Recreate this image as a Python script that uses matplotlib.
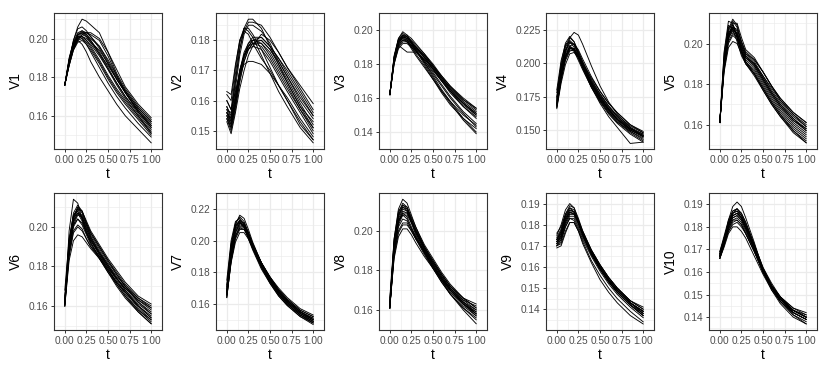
import numpy as np
import matplotlib
matplotlib.use("Agg")
import matplotlib.pyplot as plt

# ------------------------------------------------------------------
# data: each panel holds a set of curves sampled on the grid t
# ------------------------------------------------------------------
t = [0.0, 0.05, 0.1, 0.15, 0.2, 0.25, 0.3, 0.4, 0.5, 0.6, 0.7, 0.85, 1.0]

v1 = [
    [0.176, 0.188, 0.199, 0.206, 0.210, 0.209, 0.207, 0.203, 0.193, 0.182, 0.174, 0.165, 0.158],
    [0.176, 0.189, 0.199, 0.205, 0.206, 0.204, 0.201, 0.195, 0.187, 0.179, 0.172, 0.163, 0.156],
    [0.176, 0.188, 0.197, 0.202, 0.203, 0.202, 0.200, 0.196, 0.189, 0.181, 0.173, 0.164, 0.157],
    [0.176, 0.187, 0.196, 0.201, 0.203, 0.203, 0.202, 0.199, 0.191, 0.181, 0.172, 0.162, 0.155],
    [0.176, 0.190, 0.198, 0.201, 0.200, 0.197, 0.193, 0.185, 0.177, 0.170, 0.164, 0.156, 0.149],
    [0.176, 0.189, 0.197, 0.199, 0.197, 0.193, 0.188, 0.180, 0.173, 0.166, 0.160, 0.153, 0.146],
    [0.176, 0.186, 0.195, 0.200, 0.202, 0.201, 0.199, 0.193, 0.185, 0.177, 0.170, 0.162, 0.154],
    [0.176, 0.188, 0.196, 0.200, 0.201, 0.199, 0.196, 0.189, 0.181, 0.174, 0.168, 0.160, 0.152],
    [0.176, 0.187, 0.196, 0.202, 0.204, 0.203, 0.201, 0.196, 0.188, 0.180, 0.173, 0.164, 0.157],
    [0.176, 0.186, 0.194, 0.199, 0.202, 0.203, 0.203, 0.200, 0.193, 0.184, 0.175, 0.166, 0.159],
    [0.176, 0.187, 0.195, 0.199, 0.200, 0.198, 0.195, 0.188, 0.180, 0.173, 0.167, 0.159, 0.151],
    [0.176, 0.188, 0.197, 0.201, 0.201, 0.199, 0.197, 0.191, 0.184, 0.177, 0.170, 0.161, 0.153],
    [0.176, 0.189, 0.198, 0.203, 0.204, 0.202, 0.199, 0.192, 0.184, 0.176, 0.169, 0.160, 0.151],
    [0.176, 0.187, 0.195, 0.200, 0.201, 0.200, 0.198, 0.194, 0.187, 0.179, 0.172, 0.163, 0.155],
    [0.176, 0.186, 0.194, 0.198, 0.199, 0.197, 0.194, 0.187, 0.179, 0.172, 0.166, 0.158, 0.150],
    [0.176, 0.188, 0.197, 0.202, 0.203, 0.201, 0.198, 0.192, 0.186, 0.179, 0.172, 0.162, 0.154],
]

v2 = [
    [0.158, 0.155, 0.166, 0.177, 0.184, 0.187, 0.187, 0.184, 0.178, 0.172, 0.166, 0.158, 0.151],
    [0.160, 0.157, 0.169, 0.179, 0.184, 0.184, 0.182, 0.177, 0.171, 0.165, 0.160, 0.153, 0.147],
    [0.156, 0.154, 0.164, 0.175, 0.182, 0.185, 0.185, 0.183, 0.179, 0.173, 0.168, 0.161, 0.155],
    [0.162, 0.160, 0.171, 0.180, 0.184, 0.183, 0.181, 0.175, 0.169, 0.163, 0.158, 0.151, 0.146],
    [0.157, 0.156, 0.167, 0.177, 0.183, 0.186, 0.186, 0.185, 0.181, 0.176, 0.171, 0.165, 0.159],
    [0.155, 0.151, 0.158, 0.167, 0.173, 0.177, 0.179, 0.180, 0.177, 0.172, 0.167, 0.159, 0.152],
    [0.154, 0.150, 0.157, 0.166, 0.173, 0.177, 0.179, 0.179, 0.175, 0.170, 0.165, 0.157, 0.150],
    [0.156, 0.152, 0.160, 0.169, 0.175, 0.178, 0.180, 0.181, 0.178, 0.174, 0.169, 0.162, 0.155],
    [0.157, 0.153, 0.161, 0.170, 0.175, 0.178, 0.179, 0.178, 0.174, 0.169, 0.164, 0.157, 0.151],
    [0.153, 0.149, 0.156, 0.164, 0.170, 0.175, 0.178, 0.182, 0.180, 0.176, 0.171, 0.164, 0.157],
    [0.155, 0.152, 0.159, 0.168, 0.174, 0.178, 0.180, 0.180, 0.177, 0.173, 0.168, 0.160, 0.154],
    [0.158, 0.154, 0.162, 0.170, 0.175, 0.177, 0.178, 0.177, 0.173, 0.168, 0.163, 0.156, 0.149],
    [0.160, 0.157, 0.163, 0.169, 0.172, 0.173, 0.173, 0.172, 0.169, 0.165, 0.161, 0.154, 0.148],
    [0.156, 0.153, 0.161, 0.170, 0.176, 0.179, 0.180, 0.179, 0.176, 0.171, 0.166, 0.158, 0.153],
    [0.163, 0.162, 0.172, 0.180, 0.183, 0.182, 0.179, 0.174, 0.170, 0.165, 0.160, 0.152, 0.147],
    [0.154, 0.151, 0.159, 0.168, 0.175, 0.179, 0.181, 0.181, 0.178, 0.174, 0.170, 0.163, 0.156],
]

v3 = [
    [0.162, 0.184, 0.195, 0.199, 0.197, 0.193, 0.189, 0.181, 0.173, 0.165, 0.158, 0.148, 0.140],
    [0.162, 0.183, 0.194, 0.197, 0.196, 0.193, 0.190, 0.184, 0.177, 0.170, 0.163, 0.155, 0.149],
    [0.162, 0.182, 0.193, 0.196, 0.195, 0.193, 0.190, 0.185, 0.179, 0.172, 0.166, 0.158, 0.152],
    [0.162, 0.185, 0.195, 0.198, 0.196, 0.192, 0.188, 0.180, 0.172, 0.164, 0.157, 0.147, 0.139],
    [0.162, 0.181, 0.191, 0.194, 0.194, 0.192, 0.190, 0.185, 0.179, 0.173, 0.167, 0.159, 0.153],
    [0.162, 0.182, 0.192, 0.195, 0.194, 0.191, 0.188, 0.182, 0.175, 0.168, 0.161, 0.152, 0.145],
    [0.162, 0.183, 0.191, 0.189, 0.187, 0.187, 0.187, 0.183, 0.177, 0.170, 0.164, 0.155, 0.148],
    [0.162, 0.180, 0.190, 0.193, 0.193, 0.191, 0.189, 0.184, 0.178, 0.172, 0.166, 0.159, 0.154],
    [0.162, 0.184, 0.194, 0.196, 0.194, 0.190, 0.186, 0.179, 0.171, 0.163, 0.156, 0.148, 0.142],
    [0.162, 0.183, 0.193, 0.196, 0.195, 0.193, 0.190, 0.184, 0.178, 0.171, 0.164, 0.156, 0.150],
    [0.162, 0.182, 0.193, 0.197, 0.197, 0.195, 0.192, 0.186, 0.179, 0.172, 0.165, 0.157, 0.151],
    [0.162, 0.181, 0.191, 0.194, 0.193, 0.190, 0.187, 0.182, 0.176, 0.170, 0.164, 0.157, 0.150],
    [0.162, 0.183, 0.193, 0.195, 0.193, 0.189, 0.185, 0.178, 0.171, 0.164, 0.158, 0.150, 0.144],
    [0.162, 0.182, 0.192, 0.196, 0.196, 0.194, 0.191, 0.186, 0.180, 0.173, 0.167, 0.160, 0.154],
    [0.162, 0.180, 0.189, 0.192, 0.192, 0.190, 0.188, 0.183, 0.177, 0.171, 0.165, 0.157, 0.151],
    [0.162, 0.184, 0.194, 0.197, 0.195, 0.192, 0.188, 0.181, 0.174, 0.167, 0.160, 0.151, 0.143],
]

v4 = [
    [0.168, 0.190, 0.208, 0.219, 0.223, 0.221, 0.214, 0.198, 0.183, 0.171, 0.162, 0.152, 0.145],
    [0.172, 0.196, 0.213, 0.219, 0.216, 0.209, 0.201, 0.186, 0.175, 0.166, 0.158, 0.150, 0.145],
    [0.170, 0.193, 0.209, 0.215, 0.214, 0.208, 0.201, 0.188, 0.177, 0.168, 0.160, 0.151, 0.146],
    [0.166, 0.185, 0.199, 0.207, 0.208, 0.204, 0.197, 0.184, 0.173, 0.164, 0.157, 0.149, 0.143],
    [0.175, 0.200, 0.215, 0.220, 0.216, 0.207, 0.198, 0.183, 0.172, 0.163, 0.156, 0.149, 0.144],
    [0.168, 0.189, 0.204, 0.211, 0.211, 0.206, 0.199, 0.187, 0.177, 0.168, 0.161, 0.153, 0.148],
    [0.178, 0.198, 0.210, 0.213, 0.210, 0.204, 0.197, 0.185, 0.175, 0.166, 0.159, 0.151, 0.146],
    [0.167, 0.187, 0.202, 0.209, 0.210, 0.206, 0.200, 0.189, 0.179, 0.170, 0.163, 0.154, 0.148],
    [0.170, 0.191, 0.206, 0.212, 0.211, 0.205, 0.197, 0.182, 0.170, 0.160, 0.152, 0.140, 0.141],
    [0.171, 0.194, 0.210, 0.216, 0.214, 0.207, 0.199, 0.185, 0.174, 0.165, 0.158, 0.150, 0.146],
    [0.173, 0.195, 0.208, 0.212, 0.209, 0.202, 0.195, 0.182, 0.172, 0.163, 0.156, 0.148, 0.142],
    [0.169, 0.190, 0.205, 0.213, 0.214, 0.210, 0.203, 0.190, 0.179, 0.170, 0.163, 0.154, 0.149],
    [0.174, 0.197, 0.212, 0.217, 0.214, 0.206, 0.198, 0.184, 0.173, 0.165, 0.158, 0.151, 0.147],
    [0.167, 0.188, 0.203, 0.210, 0.209, 0.204, 0.197, 0.185, 0.174, 0.165, 0.158, 0.150, 0.145],
    [0.180, 0.202, 0.214, 0.216, 0.212, 0.204, 0.196, 0.182, 0.171, 0.162, 0.155, 0.147, 0.141],
    [0.169, 0.190, 0.205, 0.211, 0.210, 0.205, 0.198, 0.186, 0.176, 0.167, 0.160, 0.152, 0.147],
]

v5 = [
    [0.161, 0.196, 0.211, 0.210, 0.203, 0.196, 0.193, 0.190, 0.183, 0.176, 0.170, 0.163, 0.157],
    [0.161, 0.192, 0.206, 0.211, 0.208, 0.200, 0.195, 0.191, 0.184, 0.177, 0.171, 0.164, 0.159],
    [0.161, 0.190, 0.204, 0.208, 0.205, 0.198, 0.193, 0.189, 0.182, 0.175, 0.169, 0.162, 0.157],
    [0.161, 0.188, 0.201, 0.205, 0.203, 0.196, 0.190, 0.184, 0.177, 0.170, 0.164, 0.157, 0.152],
    [0.161, 0.195, 0.209, 0.207, 0.201, 0.194, 0.190, 0.185, 0.178, 0.171, 0.165, 0.158, 0.153],
    [0.161, 0.189, 0.203, 0.210, 0.210, 0.203, 0.197, 0.193, 0.186, 0.179, 0.173, 0.166, 0.161],
    [0.161, 0.186, 0.198, 0.201, 0.200, 0.195, 0.190, 0.185, 0.178, 0.171, 0.165, 0.157, 0.151],
    [0.161, 0.191, 0.205, 0.209, 0.206, 0.199, 0.194, 0.190, 0.183, 0.176, 0.170, 0.163, 0.158],
    [0.161, 0.190, 0.203, 0.206, 0.203, 0.196, 0.191, 0.186, 0.179, 0.172, 0.166, 0.159, 0.154],
    [0.161, 0.192, 0.207, 0.212, 0.209, 0.201, 0.195, 0.192, 0.186, 0.179, 0.173, 0.166, 0.161],
    [0.161, 0.187, 0.200, 0.204, 0.202, 0.196, 0.191, 0.187, 0.180, 0.173, 0.167, 0.160, 0.155],
    [0.161, 0.193, 0.208, 0.209, 0.204, 0.197, 0.192, 0.188, 0.181, 0.174, 0.168, 0.161, 0.156],
    [0.161, 0.188, 0.202, 0.207, 0.205, 0.199, 0.194, 0.190, 0.184, 0.178, 0.172, 0.165, 0.160],
    [0.161, 0.190, 0.204, 0.207, 0.204, 0.197, 0.191, 0.185, 0.177, 0.170, 0.164, 0.156, 0.151],
    [0.161, 0.189, 0.203, 0.208, 0.207, 0.201, 0.196, 0.192, 0.186, 0.179, 0.172, 0.165, 0.159],
    [0.161, 0.191, 0.205, 0.208, 0.204, 0.198, 0.193, 0.189, 0.182, 0.175, 0.169, 0.162, 0.158],
]

v6 = [
    [0.160, 0.198, 0.214, 0.212, 0.204, 0.197, 0.192, 0.185, 0.178, 0.172, 0.167, 0.160, 0.154],
    [0.161, 0.190, 0.204, 0.210, 0.208, 0.202, 0.197, 0.190, 0.183, 0.176, 0.170, 0.162, 0.156],
    [0.162, 0.188, 0.202, 0.207, 0.206, 0.201, 0.196, 0.189, 0.182, 0.176, 0.170, 0.163, 0.158],
    [0.160, 0.183, 0.193, 0.196, 0.195, 0.192, 0.189, 0.184, 0.178, 0.172, 0.167, 0.160, 0.155],
    [0.163, 0.192, 0.206, 0.209, 0.205, 0.199, 0.194, 0.186, 0.179, 0.172, 0.166, 0.158, 0.152],
    [0.161, 0.187, 0.200, 0.204, 0.202, 0.197, 0.193, 0.187, 0.181, 0.175, 0.170, 0.164, 0.160],
    [0.165, 0.193, 0.205, 0.207, 0.203, 0.197, 0.192, 0.184, 0.177, 0.170, 0.164, 0.157, 0.151],
    [0.160, 0.189, 0.203, 0.209, 0.208, 0.203, 0.198, 0.191, 0.184, 0.178, 0.172, 0.165, 0.161],
    [0.162, 0.186, 0.198, 0.201, 0.199, 0.194, 0.190, 0.184, 0.177, 0.171, 0.165, 0.158, 0.153],
    [0.161, 0.191, 0.205, 0.210, 0.207, 0.201, 0.195, 0.187, 0.180, 0.174, 0.168, 0.161, 0.156],
    [0.168, 0.194, 0.206, 0.208, 0.204, 0.198, 0.193, 0.186, 0.180, 0.174, 0.169, 0.162, 0.157],
    [0.161, 0.188, 0.201, 0.206, 0.205, 0.200, 0.195, 0.188, 0.181, 0.174, 0.168, 0.160, 0.154],
    [0.160, 0.185, 0.197, 0.200, 0.198, 0.194, 0.190, 0.185, 0.179, 0.174, 0.169, 0.163, 0.159],
    [0.163, 0.190, 0.203, 0.207, 0.205, 0.199, 0.194, 0.187, 0.180, 0.173, 0.167, 0.159, 0.153],
    [0.161, 0.192, 0.207, 0.211, 0.208, 0.202, 0.197, 0.190, 0.183, 0.177, 0.171, 0.164, 0.159],
    [0.164, 0.189, 0.201, 0.204, 0.201, 0.196, 0.191, 0.185, 0.178, 0.171, 0.165, 0.157, 0.151],
]

v7 = [
    [0.166, 0.194, 0.210, 0.216, 0.214, 0.207, 0.199, 0.186, 0.176, 0.168, 0.162, 0.155, 0.150],
    [0.170, 0.197, 0.211, 0.215, 0.212, 0.205, 0.197, 0.184, 0.174, 0.166, 0.160, 0.153, 0.148],
    [0.164, 0.188, 0.203, 0.209, 0.209, 0.204, 0.197, 0.185, 0.176, 0.168, 0.162, 0.155, 0.150],
    [0.165, 0.186, 0.199, 0.205, 0.205, 0.201, 0.195, 0.184, 0.175, 0.167, 0.161, 0.154, 0.149],
    [0.175, 0.200, 0.212, 0.214, 0.210, 0.203, 0.195, 0.183, 0.173, 0.165, 0.159, 0.152, 0.148],
    [0.168, 0.193, 0.207, 0.212, 0.211, 0.205, 0.198, 0.186, 0.177, 0.169, 0.163, 0.156, 0.152],
    [0.166, 0.190, 0.205, 0.211, 0.210, 0.205, 0.198, 0.186, 0.176, 0.168, 0.162, 0.155, 0.151],
    [0.172, 0.198, 0.210, 0.212, 0.208, 0.201, 0.194, 0.182, 0.173, 0.165, 0.159, 0.152, 0.147],
    [0.165, 0.187, 0.201, 0.207, 0.207, 0.203, 0.197, 0.186, 0.177, 0.169, 0.163, 0.156, 0.152],
    [0.167, 0.192, 0.206, 0.211, 0.209, 0.203, 0.196, 0.184, 0.175, 0.167, 0.161, 0.154, 0.149],
    [0.169, 0.195, 0.209, 0.213, 0.210, 0.203, 0.196, 0.184, 0.174, 0.166, 0.160, 0.153, 0.148],
    [0.164, 0.187, 0.202, 0.208, 0.208, 0.203, 0.197, 0.186, 0.177, 0.170, 0.164, 0.157, 0.153],
    [0.171, 0.196, 0.209, 0.212, 0.209, 0.202, 0.195, 0.183, 0.174, 0.166, 0.160, 0.153, 0.149],
    [0.166, 0.189, 0.203, 0.208, 0.207, 0.202, 0.196, 0.185, 0.176, 0.168, 0.162, 0.155, 0.150],
    [0.168, 0.194, 0.208, 0.213, 0.211, 0.204, 0.197, 0.185, 0.175, 0.167, 0.161, 0.154, 0.150],
    [0.167, 0.191, 0.205, 0.210, 0.209, 0.204, 0.197, 0.186, 0.176, 0.168, 0.162, 0.155, 0.151],
]

v8 = [
    [0.161, 0.196, 0.211, 0.216, 0.214, 0.208, 0.202, 0.192, 0.184, 0.177, 0.171, 0.164, 0.158],
    [0.163, 0.193, 0.207, 0.212, 0.211, 0.206, 0.201, 0.192, 0.185, 0.178, 0.172, 0.165, 0.160],
    [0.162, 0.186, 0.197, 0.201, 0.201, 0.198, 0.194, 0.187, 0.181, 0.175, 0.170, 0.164, 0.160],
    [0.161, 0.190, 0.203, 0.208, 0.208, 0.204, 0.200, 0.191, 0.184, 0.177, 0.171, 0.164, 0.159],
    [0.164, 0.195, 0.208, 0.212, 0.210, 0.204, 0.198, 0.189, 0.181, 0.174, 0.168, 0.161, 0.156],
    [0.161, 0.188, 0.200, 0.204, 0.204, 0.200, 0.196, 0.189, 0.182, 0.176, 0.171, 0.165, 0.162],
    [0.166, 0.196, 0.210, 0.213, 0.211, 0.205, 0.199, 0.190, 0.182, 0.175, 0.168, 0.160, 0.153],
    [0.161, 0.191, 0.205, 0.210, 0.209, 0.205, 0.200, 0.192, 0.185, 0.178, 0.172, 0.166, 0.161],
    [0.162, 0.189, 0.202, 0.206, 0.205, 0.201, 0.197, 0.189, 0.182, 0.175, 0.169, 0.162, 0.157],
    [0.161, 0.193, 0.208, 0.213, 0.212, 0.207, 0.202, 0.193, 0.186, 0.179, 0.173, 0.166, 0.161],
    [0.163, 0.192, 0.205, 0.209, 0.207, 0.202, 0.197, 0.189, 0.182, 0.176, 0.170, 0.163, 0.158],
    [0.161, 0.187, 0.199, 0.203, 0.203, 0.200, 0.196, 0.190, 0.184, 0.178, 0.172, 0.166, 0.163],
    [0.162, 0.194, 0.209, 0.214, 0.212, 0.206, 0.200, 0.191, 0.183, 0.176, 0.170, 0.163, 0.157],
    [0.161, 0.190, 0.204, 0.209, 0.209, 0.205, 0.200, 0.191, 0.183, 0.176, 0.170, 0.163, 0.158],
    [0.165, 0.193, 0.205, 0.208, 0.206, 0.201, 0.196, 0.188, 0.181, 0.174, 0.168, 0.161, 0.155],
    [0.161, 0.191, 0.206, 0.211, 0.210, 0.205, 0.199, 0.190, 0.183, 0.176, 0.170, 0.163, 0.159],
]

v9 = [
    [0.175, 0.180, 0.187, 0.190, 0.188, 0.182, 0.176, 0.167, 0.160, 0.154, 0.149, 0.143, 0.139],
    [0.172, 0.175, 0.182, 0.186, 0.186, 0.182, 0.177, 0.168, 0.161, 0.155, 0.150, 0.144, 0.140],
    [0.170, 0.171, 0.177, 0.181, 0.181, 0.177, 0.172, 0.163, 0.156, 0.150, 0.145, 0.139, 0.134],
    [0.173, 0.177, 0.184, 0.188, 0.187, 0.182, 0.176, 0.167, 0.160, 0.154, 0.149, 0.143, 0.138],
    [0.171, 0.173, 0.180, 0.184, 0.184, 0.180, 0.175, 0.166, 0.159, 0.153, 0.148, 0.142, 0.138],
    [0.174, 0.178, 0.185, 0.189, 0.188, 0.183, 0.177, 0.168, 0.161, 0.155, 0.150, 0.144, 0.140],
    [0.170, 0.172, 0.179, 0.183, 0.183, 0.179, 0.174, 0.166, 0.159, 0.153, 0.148, 0.142, 0.137],
    [0.172, 0.176, 0.183, 0.187, 0.186, 0.181, 0.175, 0.166, 0.159, 0.153, 0.148, 0.142, 0.137],
    [0.169, 0.170, 0.176, 0.181, 0.181, 0.177, 0.171, 0.162, 0.154, 0.148, 0.143, 0.137, 0.133],
    [0.173, 0.176, 0.183, 0.186, 0.185, 0.181, 0.176, 0.167, 0.160, 0.154, 0.149, 0.143, 0.139],
    [0.171, 0.174, 0.181, 0.185, 0.185, 0.181, 0.176, 0.167, 0.160, 0.154, 0.149, 0.143, 0.139],
    [0.176, 0.179, 0.185, 0.188, 0.186, 0.181, 0.175, 0.166, 0.159, 0.153, 0.148, 0.142, 0.137],
    [0.172, 0.174, 0.181, 0.185, 0.185, 0.181, 0.176, 0.168, 0.161, 0.155, 0.150, 0.144, 0.141],
    [0.170, 0.173, 0.179, 0.183, 0.182, 0.178, 0.173, 0.165, 0.158, 0.152, 0.147, 0.141, 0.136],
    [0.173, 0.177, 0.184, 0.187, 0.186, 0.181, 0.176, 0.167, 0.160, 0.154, 0.149, 0.143, 0.139],
    [0.171, 0.175, 0.182, 0.186, 0.185, 0.181, 0.176, 0.167, 0.160, 0.154, 0.149, 0.143, 0.138],
]

v10 = [
    [0.167, 0.174, 0.183, 0.189, 0.191, 0.189, 0.184, 0.173, 0.161, 0.153, 0.147, 0.141, 0.137],
    [0.168, 0.174, 0.181, 0.186, 0.188, 0.186, 0.182, 0.172, 0.161, 0.153, 0.148, 0.142, 0.139],
    [0.166, 0.172, 0.178, 0.181, 0.182, 0.180, 0.177, 0.169, 0.160, 0.153, 0.148, 0.143, 0.140],
    [0.169, 0.175, 0.181, 0.185, 0.186, 0.184, 0.180, 0.171, 0.161, 0.154, 0.148, 0.143, 0.140],
    [0.167, 0.173, 0.180, 0.184, 0.185, 0.183, 0.179, 0.170, 0.160, 0.153, 0.148, 0.142, 0.139],
    [0.166, 0.171, 0.177, 0.180, 0.180, 0.178, 0.175, 0.167, 0.159, 0.152, 0.147, 0.142, 0.139],
    [0.168, 0.175, 0.182, 0.187, 0.188, 0.186, 0.182, 0.172, 0.162, 0.154, 0.149, 0.143, 0.140],
    [0.167, 0.173, 0.179, 0.183, 0.183, 0.181, 0.177, 0.169, 0.160, 0.153, 0.148, 0.143, 0.141],
    [0.169, 0.176, 0.183, 0.187, 0.188, 0.185, 0.181, 0.171, 0.161, 0.153, 0.147, 0.141, 0.138],
    [0.167, 0.173, 0.180, 0.185, 0.186, 0.184, 0.180, 0.171, 0.161, 0.154, 0.149, 0.144, 0.141],
    [0.166, 0.172, 0.179, 0.183, 0.184, 0.182, 0.178, 0.170, 0.160, 0.153, 0.147, 0.142, 0.139],
    [0.168, 0.174, 0.181, 0.186, 0.187, 0.185, 0.181, 0.172, 0.162, 0.155, 0.149, 0.144, 0.142],
    [0.167, 0.173, 0.180, 0.184, 0.185, 0.183, 0.179, 0.170, 0.160, 0.152, 0.146, 0.140, 0.137],
    [0.166, 0.172, 0.178, 0.182, 0.183, 0.181, 0.177, 0.169, 0.160, 0.153, 0.148, 0.143, 0.140],
    [0.168, 0.175, 0.182, 0.186, 0.187, 0.184, 0.180, 0.171, 0.161, 0.154, 0.148, 0.143, 0.140],
    [0.167, 0.174, 0.181, 0.185, 0.186, 0.184, 0.180, 0.171, 0.161, 0.154, 0.149, 0.143, 0.140],
]

names = ["V1", "V2", "V3", "V4", "V5", "V6", "V7", "V8", "V9", "V10"]
curves = [v1, v2, v3, v4, v5, v6, v7, v8, v9, v10]
y_ticks = [
    [0.16, 0.18, 0.20],
    [0.15, 0.16, 0.17, 0.18],
    [0.14, 0.16, 0.18, 0.20],
    [0.150, 0.175, 0.200, 0.225],
    [0.16, 0.18, 0.20],
    [0.16, 0.18, 0.20],
    [0.16, 0.18, 0.20, 0.22],
    [0.16, 0.18, 0.20],
    [0.14, 0.15, 0.16, 0.17, 0.18, 0.19],
    [0.14, 0.15, 0.16, 0.17, 0.18, 0.19],
]
y_decimals = [2, 2, 2, 3, 2, 2, 2, 2, 2, 2]
x_ticks = [0.0, 0.25, 0.5, 0.75, 1.0]

# ------------------------------------------------------------------
# layout (pixel boxes of the panels, as in the original grid)
# ------------------------------------------------------------------
W, H = 830, 374
col_left = [54, 216, 379, 546, 709]
panel_w = 108
row_top = [13, 193]
row_bottom = [149, 330]

plt.rcParams['font.family'] = ['Liberation Sans', 'DejaVu Sans']
fig = plt.figure(figsize=(W / 100, H / 100), dpi=100)

grid_col = '#EBEBEB'
for i, name in enumerate(names):
    r, c = divmod(i, 5)
    left = col_left[c] / W
    bottom = (H - row_bottom[r]) / H
    height = (row_bottom[r] - row_top[r]) / H
    ax = fig.add_axes([left, bottom, panel_w / W, height])

    for y in curves[i]:
        ax.plot(t, y, color='black', lw=0.65)

    ax.margins(x=0.05, y=0.05)
    ax.set_xticks(x_ticks)
    ax.set_xticklabels([f"{v:.2f}" for v in x_ticks])
    ax.set_yticks(y_ticks[i])
    ax.set_yticklabels([f"{v:.{y_decimals[i]}f}" for v in y_ticks[i]])

    # minor grid lines halfway between the major ticks
    yt = y_ticks[i]
    step = yt[1] - yt[0]
    ax.set_xticks([-0.125, 0.125, 0.375, 0.625, 0.875, 1.125], minor=True)
    ax.set_yticks([yt[0] - step / 2] + [v + step / 2 for v in yt], minor=True)
    ax.autoscale(False)

    ax.grid(which='major', color=grid_col, lw=0.9)
    ax.grid(which='minor', color=grid_col, lw=0.45)
    ax.set_axisbelow(True)

    for s in ax.spines.values():
        s.set_color('#333333')
        s.set_linewidth(0.8)
    ax.tick_params(which='major', length=2.5, width=0.7, color='#333333',
                   labelsize=7.3, labelcolor='#4D4D4D', pad=1.5)
    ax.tick_params(which='minor', length=0)

    ax.set_xlabel('t', fontsize=10, labelpad=2)
    ax.set_ylabel(name, fontsize=10, labelpad=4)

fig.savefig('out.png', dpi=100)
